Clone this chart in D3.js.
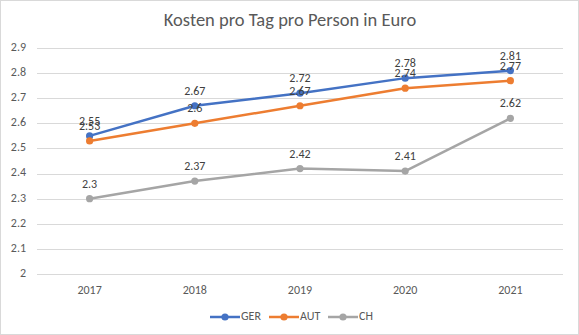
<!DOCTYPE html>
<html>
<head>
<meta charset="utf-8">
<script src="https://cdn.jsdelivr.net/npm/d3@7"></script>
<style>
  html, body { margin: 0; padding: 0; background: #fff; }
  #chart { width: 579px; height: 335px; }
</style>
</head>
<body>
<div id="chart"></div>
<script>
const years = ["2017", "2018", "2019", "2020", "2021"];
const ger = [2.55, 2.67, 2.72, 2.78, 2.81];
const aut = [2.53, 2.6, 2.67, 2.74, 2.77];
const ch = [2.3, 2.37, 2.42, 2.41, 2.62];
const yTicks = [2, 2.1, 2.2, 2.3, 2.4, 2.5, 2.6, 2.7, 2.8, 2.9];

const SERIES = [
  { name: "GER", values: ger, color: "#4472C4" },
  { name: "AUT", values: aut, color: "#ED7D31" },
  { name: "CH",  values: ch,  color: "#A5A5A5" }
];

const W = 579, H = 335;
const FONT = "Calibri, Carlito, 'Open Sans', sans-serif";

const svg = d3.select("#chart").append("svg")
  .attr("width", W).attr("height", H);

// outer frame
svg.append("rect")
  .attr("x", 0.5).attr("y", 0.5)
  .attr("width", W - 1).attr("height", H - 1)
  .attr("fill", "#fff").attr("stroke", "#D9D9D9");

svg.append("text")
  .attr("x", 290).attr("y", 26)
  .attr("text-anchor", "middle")
  .attr("font-family", FONT).attr("font-size", "18.5px")
  .attr("fill", "#595959")
  .text("Kosten pro Tag pro Person in Euro");

const x = d3.scaleBand().domain(years).range([37, 563]);
const y = d3.scaleLinear().domain([2, 2.9]).range([274, 48]);
const cx = d => x(d) + x.bandwidth() / 2;

// gridlines
svg.append("g").selectAll("line")
  .data(yTicks)
  .join("line")
  .attr("x1", 37).attr("x2", 563)
  .attr("y1", d => Math.round(y(d)) + 0.5).attr("y2", d => Math.round(y(d)) + 0.5)
  .attr("stroke", "#D9D9D9").attr("stroke-width", 1);

// y tick labels
svg.append("g").selectAll("text")
  .data(yTicks)
  .join("text")
  .attr("x", 26).attr("y", d => y(d))
  .attr("text-anchor", "end")
  .attr("dominant-baseline", "middle")
  .attr("font-family", FONT).attr("font-size", "12px")
  .attr("fill", "#595959")
  .text(d => d3.format("~g")(d));

// x labels
svg.append("g").selectAll("text")
  .data(years)
  .join("text")
  .attr("x", d => cx(d)).attr("y", 294)
  .attr("text-anchor", "middle")
  .attr("font-family", FONT).attr("font-size", "12px")
  .attr("fill", "#595959")
  .text(d => d);

const line = d3.line()
  .x((d, i) => cx(years[i]))
  .y(d => y(d));

SERIES.forEach(s => {
  const g = svg.append("g");
  g.append("path")
    .attr("d", line(s.values))
    .attr("fill", "none")
    .attr("stroke", s.color)
    .attr("stroke-width", 2.5)
    .attr("stroke-linejoin", "round")
    .attr("stroke-linecap", "round");

  g.selectAll("circle")
    .data(s.values)
    .join("circle")
    .attr("cx", (d, i) => cx(years[i]))
    .attr("cy", d => y(d))
    .attr("r", 3.6)
    .attr("fill", s.color);

  g.selectAll("text")
    .data(s.values)
    .join("text")
    .attr("x", (d, i) => cx(years[i]))
    .attr("y", d => y(d) - 11)
    .attr("text-anchor", "middle")
    .attr("font-family", FONT).attr("font-size", "12px")
    .attr("fill", "#404040")
    .text(d => d3.format("~g")(d));
});

// legend
const legend = svg.append("g");
const legendX = [210, 269, 328];
SERIES.forEach((s, i) => {
  const lg = legend.append("g").attr("transform", `translate(${legendX[i]},317)`);
  lg.append("line")
    .attr("x1", 0).attr("x2", 30)
    .attr("stroke", s.color).attr("stroke-width", 2.5);
  lg.append("circle")
    .attr("cx", 15).attr("r", 3.6).attr("fill", s.color);
  lg.append("text")
    .attr("x", 31).attr("y", 0)
    .attr("dominant-baseline", "middle")
    .attr("font-family", FONT).attr("font-size", "12px")
    .attr("fill", "#595959")
    .text(s.name);
});
</script>
</body>
</html>
